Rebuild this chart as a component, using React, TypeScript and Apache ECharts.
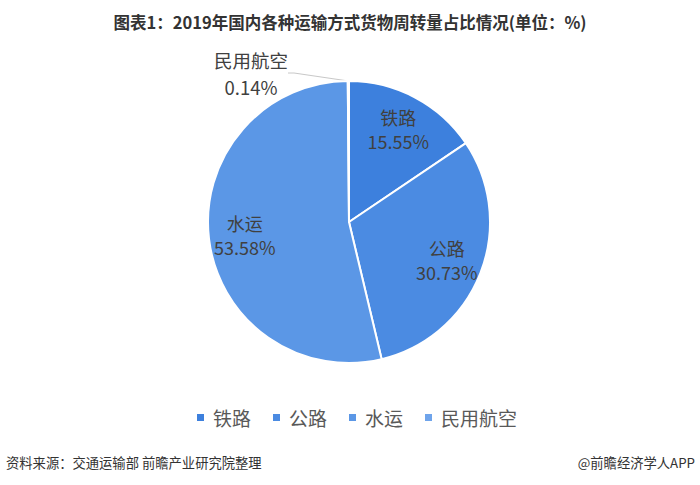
import React, { useEffect, useRef } from "react";
import * as echarts from "echarts";

const categories = ["铁路", "公路", "水运", "民用航空"];
const shares = [15.55, 30.73, 53.58, 0.14];
const colors = ["#3d80dd", "#4b8be2", "#5b97e6", "#6fa4eb"];

const titleText = "图表1：2019年国内各种运输方式货物周转量占比情况(单位：%)";
const sourceText = "资料来源：交通运输部 前瞻产业研究院整理";
const brandText = "@前瞻经济学人APP";

const FONT = "'Noto Sans CJK SC', 'Noto Sans', sans-serif";

export default function App() {
  const ref = useRef<HTMLDivElement>(null);
  useEffect(() => {
    document.body.style.margin = "0";
    if (!ref.current) return;
    const chart = echarts.init(ref.current, undefined, { renderer: "svg" });
    const data = categories.map((name, i) => ({
      name,
      value: shares[i],
      itemStyle: { color: colors[i] },
    }));
    chart.setOption({
      animation: false,
      backgroundColor: "#ffffff",
      title: {
        text: titleText,
        left: "center",
        top: 9,
        textStyle: { fontFamily: FONT, fontSize: 16.5, fontWeight: "bold", color: "#333333" },
      },
      legend: {
        data: categories,
        left: 190,
        top: 403,
        icon: "rect",
        itemWidth: 9,
        itemHeight: 9,
        itemGap: 20,
        textStyle: { fontFamily: FONT, fontSize: 19, color: "#595959", padding: [0, 0, 0, 3] },
      },
      graphic: [
        {
          type: "text",
          left: 6,
          top: 456,
          style: { text: sourceText, font: `13.3px ${FONT}`, fill: "#333333" },
        },
        {
          type: "text",
          right: 5,
          top: 456,
          style: { text: brandText, font: `13.3px ${FONT}`, fill: "#333333" },
        },
      ],
      series: [
        {
          name: "货物周转量",
          type: "pie",
          center: [349, 222],
          radius: 141,
          startAngle: 90,
          clockwise: true,
          avoidLabelOverlap: false,
          itemStyle: { borderColor: "#ffffff", borderWidth: 2 },
          label: { show: false },
          labelLine: { show: false },
          emphasis: { disabled: true },
          data: data.map((d, i) =>
            i === 3
              ? {
                  ...d,
                  label: {
                    show: true,
                    position: "outside",
                    formatter: (p: any) => `${p.name}\n${Number(p.value).toFixed(2)}%`,
                    fontFamily: FONT,
                    fontSize: 18.5,
                    lineHeight: 27,
                    color: "#404040",
                    align: "center",
                  },
                  labelLine: {
                    show: true,
                    length: 8,
                    length2: 6,
                    lineStyle: { color: "#c8c8c8", width: 1 },
                  },
                }
              : d
          ),
          labelLayout: (params: any) =>
            params.dataIndex === 3
              ? { x: 251, y: 73, align: "center", verticalAlign: "middle" }
              : {},
        },
        {
          name: "labels",
          type: "pie",
          center: [349, 222],
          radius: [63, 141],
          startAngle: 90,
          clockwise: true,
          silent: true,
          avoidLabelOverlap: false,
          itemStyle: { color: "transparent", borderWidth: 0 },
          labelLine: { show: false },
          label: {
            show: true,
            position: "inside",
            formatter: (p: any) => `${p.name}\n${Number(p.value).toFixed(2)}%`,
            fontFamily: FONT,
            fontSize: 18,
            lineHeight: 24,
            color: "#404040",
          },
          data: categories.map((name, i) => ({
            name,
            value: shares[i],
            label: { show: i < 3 },
          })),
        },
      ],
    });
    return () => chart.dispose();
  }, []);
  return <div ref={ref} style={{ width: 700, height: 485 }} />;
}
